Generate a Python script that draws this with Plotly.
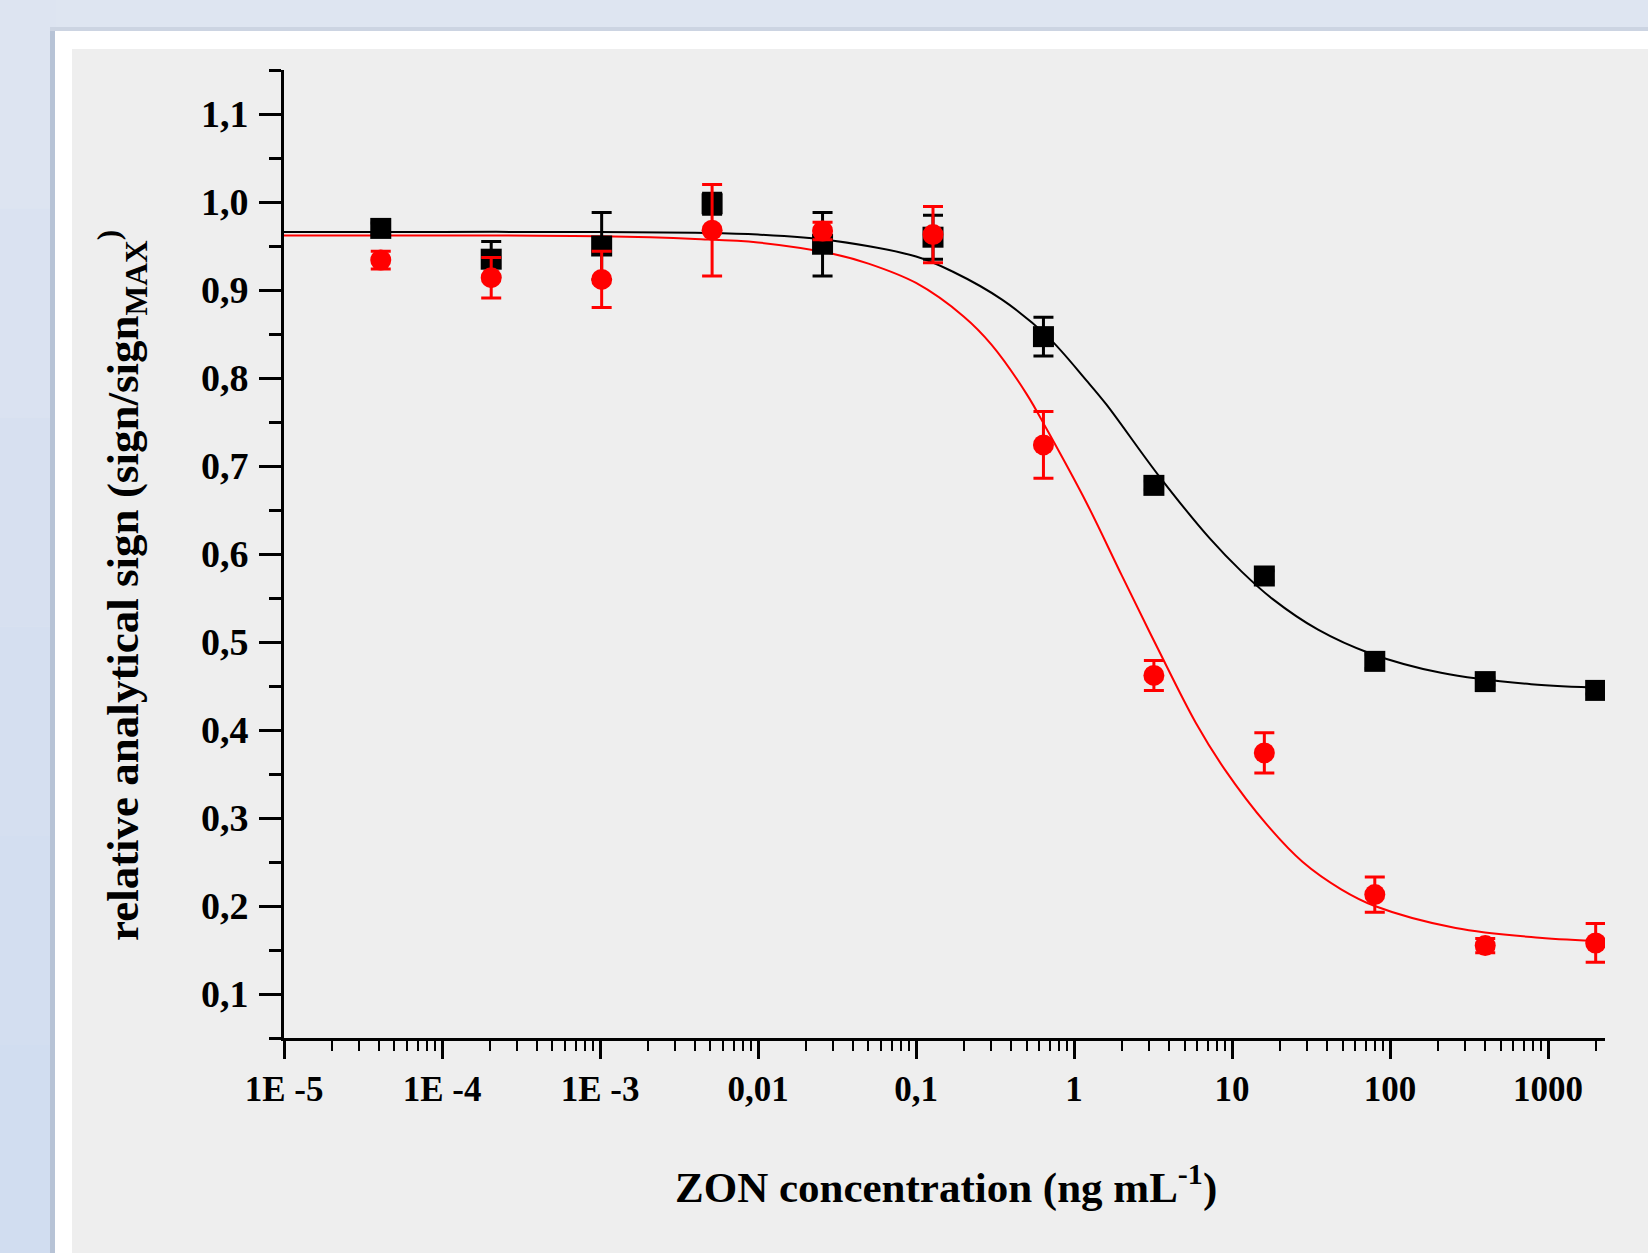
import plotly.graph_objects as go

# ---------------- data ----------------
conc = [0.00004096, 0.0002048, 0.001024, 0.00512, 0.0256, 0.128, 0.64, 3.2, 16, 80, 400, 2000]

black_y = [0.970, 0.935, 0.950, 0.998, 0.952, 0.960, 0.847, 0.678, 0.575, 0.478, 0.455, 0.445]
black_err = [0.006, 0.020, 0.038, 0.012, 0.036, 0.025, 0.022, 0.005, 0.006, 0.008, 0.004, 0.004]

red_y = [0.934, 0.914, 0.912, 0.968, 0.967, 0.963, 0.724, 0.462, 0.374, 0.213, 0.155, 0.158]
red_err = [0.010, 0.023, 0.032, 0.052, 0.010, 0.032, 0.038, 0.017, 0.023, 0.020, 0.008, 0.022]

black_fit_x = [1e-5, 1e-4, 1e-3, 0.004, 0.01, 0.03, 0.1, 0.17, 0.35, 0.68, 1.2, 1.6, 3.4,
               7.2, 11.5, 18, 35, 75, 210, 780, 2250]
black_fit_y = [0.966, 0.966, 0.966, 0.965, 0.963, 0.956, 0.938, 0.921, 0.889, 0.847, 0.797,
               0.770, 0.690, 0.618, 0.580, 0.549, 0.514, 0.487, 0.465, 0.452, 0.448]

red_fit_x = [1e-5, 1e-4, 1e-3, 0.004, 0.01, 0.03, 0.05, 0.1, 0.2, 0.3, 0.5, 0.68, 1.2, 2.0,
             3.4, 5.9, 9.0, 16.5, 28, 49, 80, 260, 880, 2250]
red_fit_y = [0.962, 0.962, 0.961, 0.958, 0.954, 0.941, 0.930, 0.908, 0.870, 0.838, 0.782,
             0.740, 0.658, 0.576, 0.492, 0.408, 0.355, 0.293, 0.250, 0.219, 0.200, 0.175,
             0.164, 0.160]

y_ticks = [0.1, 0.2, 0.3, 0.4, 0.5, 0.6, 0.7, 0.8, 0.9, 1.0, 1.1]
y_ticktext = ["0,1", "0,2", "0,3", "0,4", "0,5", "0,6", "0,7", "0,8", "0,9", "1,0", "1,1"]
y_minor = [0.05, 0.15, 0.25, 0.35, 0.45, 0.55, 0.65, 0.75, 0.85, 0.95, 1.05, 1.15]

x_ticks = [1e-5, 1e-4, 1e-3, 1e-2, 1e-1, 1, 10, 100, 1000]
x_ticktext = ["1E -5", "1E -4", "1E -3", "0,01", "0,1", "1", "10", "100", "1000"]
x_minor = [m * d for d in x_ticks for m in range(2, 10)]

# ---------------- layout geometry ----------------
W, H = 1648, 1253
L, R, T, B = 284, 1605, 70, 1038
PW, PH = R - L, B - T


def px(x):
    return (x - L) / PW


def py(y):
    return (B - y) / PH


FONT = "Liberation Serif"

fig = go.Figure()

fig.add_trace(go.Scatter(x=black_fit_x, y=black_fit_y, mode="lines",
                         line=dict(color="black", width=2, shape="spline", smoothing=1.0),
                         hoverinfo="skip", showlegend=False))
fig.add_trace(go.Scatter(x=red_fit_x, y=red_fit_y, mode="lines",
                         line=dict(color="#ff0000", width=2, shape="spline", smoothing=1.0),
                         hoverinfo="skip", showlegend=False))
fig.add_trace(go.Scatter(x=conc, y=black_y, mode="markers",
                         marker=dict(symbol="square", size=21, color="black"),
                         error_y=dict(type="data", array=black_err, color="black",
                                      thickness=3, width=10),
                         showlegend=False))
fig.add_trace(go.Scatter(x=conc, y=red_y, mode="markers",
                         marker=dict(symbol="circle", size=21, color="#ff0000"),
                         error_y=dict(type="data", array=red_err, color="#ff0000",
                                      thickness=3, width=10),
                         showlegend=False))

shapes = []
# bluish gradient on the left strip of the page background
bands = ["#dde4f1", "#dae2f1", "#d7e0f0", "#d5dff0", "#d3def0", "#d1ddf0"]
nb = len(bands)
for i, c in enumerate(bands):
    shapes.append(dict(type="rect", xref="paper", yref="paper", x0=px(0), x1=px(56),
                       y0=py(H * (i + 1) / nb), y1=py(H * i / nb),
                       fillcolor=c, line=dict(width=0), layer="below"))
shapes += [
    # shadow of white frame
    dict(type="rect", xref="paper", yref="paper", x0=px(50), x1=px(56), y0=py(1260), y1=py(28),
         fillcolor="#b7c3d6", line=dict(width=0), layer="below"),
    dict(type="rect", xref="paper", yref="paper", x0=px(50), x1=px(1660), y0=py(31), y1=py(27),
         fillcolor="#ccd4e2", line=dict(width=0), layer="below"),
    # white frame
    dict(type="rect", xref="paper", yref="paper", x0=px(55), x1=px(1660), y0=py(1260), y1=py(31),
         fillcolor="white", line=dict(width=0), layer="below"),
    # gray panel
    dict(type="rect", xref="paper", yref="paper", x0=px(72), x1=px(1660), y0=py(1260), y1=py(49),
         fillcolor="#eeeeee", line=dict(width=0), layer="below"),
]

annotations = [
    dict(text="ZON concentration (ng mL<sup>-1</sup>)", xref="paper", yref="paper",
         x=px(946), y=py(1184), xanchor="center", yanchor="middle", showarrow=False,
         font=dict(family=FONT, size=43, color="black", weight="bold")),
    dict(text="relative analytical sign (sign/sign<sub>MAX</sub><sup>)</sup>", xref="paper",
         yref="paper", x=px(122), y=py(586), xanchor="center", yanchor="middle",
         textangle=-90, showarrow=False,
         font=dict(family=FONT, size=45, color="black", weight="bold")),
]

fig.update_layout(
    width=W, height=H,
    margin=dict(l=L, r=W - R, t=T, b=H - B, pad=0),
    paper_bgcolor="#dee5f1",
    plot_bgcolor="#eeeeee",
    shapes=shapes,
    annotations=annotations,
    showlegend=False,
)

fig.update_xaxes(
    type="log", range=[-5, 3.36], showgrid=False, zeroline=False,
    showline=True, linecolor="black", linewidth=3, mirror=False,
    ticks="outside", ticklen=18, tickwidth=3, tickcolor="black",
    tickmode="array", tickvals=x_ticks, ticktext=x_ticktext,
    tickfont=dict(family=FONT, size=35, color="black", weight="bold"),
    ticklabelstandoff=0,
    minor=dict(tickmode="array", tickvals=x_minor, ticks="outside", ticklen=10,
               tickwidth=2, tickcolor="black", showgrid=False),
)
fig.update_yaxes(
    range=[0.05, 1.15], showgrid=False, zeroline=False,
    showline=True, linecolor="black", linewidth=3, mirror=False,
    ticks="outside", ticklen=22, tickwidth=3, tickcolor="black",
    tickmode="array", tickvals=y_ticks, ticktext=y_ticktext,
    tickfont=dict(family=FONT, size=38, color="black", weight="bold"),
    ticklabelstandoff=3,
    minor=dict(tickmode="array", tickvals=y_minor, ticks="outside", ticklen=12,
               tickwidth=3, tickcolor="black", showgrid=False),
)

fig.write_html("out.html", post_script="document.body.style.margin='0';",
               config={"displayModeBar": False})
